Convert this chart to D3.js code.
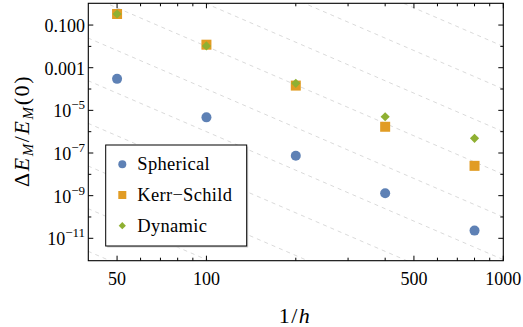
<!DOCTYPE html>
<html>
<head>
<meta charset="utf-8">
<script src="https://cdn.jsdelivr.net/npm/d3@7"></script>
<style>
body { margin: 0; background: #fff; }
text { font-family: "Liberation Serif", "Times New Roman", serif; fill: #000; }
</style>
</head>
<body>
<script>
// values
var invH = [50, 100, 200, 400, 800];
var spherical = [3.0e-4, 4.7e-6, 7.5e-8, 1.3e-9, 2.3e-11];
var kerrSchild = [0.33, 0.012, 1.45e-4, 1.7e-6, 2.5e-8];
var dynamic = [0.33, 0.0105, 1.85e-4, 5.0e-6, 4.9e-7];
var seriesNames = ["Spherical", "Kerr\u2212Schild", "Dynamic"];

var xMajor = [50, 100, 500, 1000];
var xMinor = [60, 70, 80, 90, 200, 300, 400, 600, 700, 800, 900];
var yLabelPow = [-1, -3, -5, -7, -9, -11];
var yMinorPow = [-2, -4, -6, -8, -10];
var guideExp = [-2, 0, 2, 4, 6, 8, 10, 12, 14, 16]; // dashed lines C * (1/h)^-6

var width = 523, height = 327;
var pl = 88.3, pr = 503.3, pt = 3.3, pb = 260.7;

var x = d3.scaleLog().domain([40, 1000]).range([pl, pr]);
var y = d3.scaleLog().domain([Math.pow(10, -12.05), Math.pow(10, 0.02)]).range([pb, pt]);

var colors = ["#5e81b5", "#e19c24", "#8fb032"];

var svg = d3.select("body").append("svg")
  .attr("width", width).attr("height", height);

svg.append("defs").append("clipPath").attr("id", "plotclip")
  .append("rect").attr("x", pl).attr("y", pt)
  .attr("width", pr - pl).attr("height", pb - pt);

// dashed guide lines
var guideLine = d3.line()
  .x(function(d) { return x(d[0]); })
  .y(function(d) { return y(d[1]); });

svg.append("g").attr("clip-path", "url(#plotclip)")
  .selectAll("path").data(guideExp).enter().append("path")
  .attr("d", function(k) {
    return guideLine([30, 1200].map(function(v) { return [v, Math.pow(10, k) * Math.pow(v, -6)]; }));
  })
  .attr("fill", "none")
  .attr("stroke", "#dadada")
  .attr("stroke-width", 1)
  .attr("stroke-dasharray", "4,4");

// data
var pts = svg.append("g");
pts.selectAll("circle").data(spherical).enter().append("circle")
  .attr("cx", function(d, i) { return x(invH[i]); })
  .attr("cy", function(d) { return y(d); })
  .attr("r", 5)
  .attr("fill", colors[0]);

pts.selectAll("rect").data(kerrSchild).enter().append("rect")
  .attr("x", function(d, i) { return x(invH[i]) - 5; })
  .attr("y", function(d) { return y(d) - 5; })
  .attr("width", 10).attr("height", 10)
  .attr("fill", colors[1]);

var diamond = function(r) { return "M0," + (-r) + "L" + r + ",0L0," + r + "L" + (-r) + ",0Z"; };
pts.selectAll("path").data(dynamic).enter().append("path")
  .attr("transform", function(d, i) { return "translate(" + x(invH[i]) + "," + y(d) + ")"; })
  .attr("d", diamond(4.6))
  .attr("fill", colors[2]);

// frame
svg.append("rect").attr("x", pl).attr("y", pt)
  .attr("width", pr - pl).attr("height", pb - pt)
  .attr("fill", "none").attr("stroke", "#000").attr("stroke-width", 1.1);

var ticks = svg.append("g").attr("stroke", "#000").attr("stroke-width", 1);
function xTick(v, len) {
  ticks.append("line").attr("x1", x(v)).attr("x2", x(v)).attr("y1", pb).attr("y2", pb - len);
  ticks.append("line").attr("x1", x(v)).attr("x2", x(v)).attr("y1", pt).attr("y2", pt + len);
}
function yTick(p, len) {
  var yy = y(Math.pow(10, p));
  ticks.append("line").attr("x1", pl).attr("x2", pl + len).attr("y1", yy).attr("y2", yy);
  ticks.append("line").attr("x1", pr).attr("x2", pr - len).attr("y1", yy).attr("y2", yy);
}
xMajor.forEach(function(v) { xTick(v, 5); });
xMinor.forEach(function(v) { xTick(v, 3); });
yLabelPow.forEach(function(p) { yTick(p, 5); });
yMinorPow.forEach(function(p) { yTick(p, 3); });

// tick labels
svg.append("g").selectAll("text").data(xMajor).enter().append("text")
  .attr("x", function(d) { return x(d); })
  .attr("y", 285)
  .attr("text-anchor", "middle")
  .attr("font-size", 18)
  .text(function(d) { return d; });

var yl = svg.append("g").selectAll("text").data(yLabelPow).enter().append("text")
  .attr("x", 85)
  .attr("y", function(p) { return y(Math.pow(10, p)) + 7; })
  .attr("text-anchor", "end")
  .attr("font-size", 18);
yl.each(function(p) {
  var t = d3.select(this);
  if (p >= -3) {
    t.text(d3.format(".3f")(Math.pow(10, p)));
  } else {
    t.append("tspan").text("10");
    t.append("tspan").attr("dy", -8).attr("font-size", 13).text("\u2212" + (-p));
  }
});

// axis titles
var xt = svg.append("text").attr("x", 295).attr("y", 323)
  .attr("text-anchor", "middle").attr("font-size", 22).attr("letter-spacing", 1.5);
xt.append("tspan").text("1/");
xt.append("tspan").attr("font-style", "italic").text("h");

var yt = svg.append("text")
  .attr("transform", "translate(29,131) rotate(-90)")
  .attr("text-anchor", "middle").attr("font-size", 22).attr("letter-spacing", 1.6);
yt.append("tspan").text("\u0394");
yt.append("tspan").attr("font-style", "italic").text("E");
yt.append("tspan").attr("font-style", "italic").attr("font-size", 15).attr("dy", 4).text("M");
yt.append("tspan").attr("dy", -4).text("/");
yt.append("tspan").attr("font-style", "italic").text("E");
yt.append("tspan").attr("font-style", "italic").attr("font-size", 15).attr("dy", 4).text("M");
yt.append("tspan").attr("dy", -4).text("(0)");

// legend
var lg = svg.append("g");
lg.append("rect").attr("x", 107.2).attr("y", 146.5).attr("width", 141).attr("height", 101)
  .attr("fill", "#cfcfcf");
lg.append("rect").attr("x", 105.7).attr("y", 145).attr("width", 141).attr("height", 101)
  .attr("fill", "#fff").attr("stroke", "#000").attr("stroke-width", 1);

var rowY = d3.scalePoint().domain(seriesNames).range([164.3, 225.7]);
lg.append("circle").attr("cx", 122.3).attr("cy", rowY(seriesNames[0])).attr("r", 4).attr("fill", colors[0]);
lg.append("rect").attr("x", 118.3).attr("y", rowY(seriesNames[1]) - 4).attr("width", 8).attr("height", 8).attr("fill", colors[1]);
lg.append("path").attr("transform", "translate(122.3," + rowY(seriesNames[2]) + ")").attr("d", diamond(3.6)).attr("fill", colors[2]);

lg.selectAll("text.lab").data(seriesNames).enter().append("text")
  .attr("class", "lab")
  .attr("x", 137.3)
  .attr("y", function(d) { return rowY(d) + 6; })
  .attr("font-size", 18.5)
  .attr("letter-spacing", 0.3)
  .text(function(d) { return d; });
</script>
</body>
</html>
